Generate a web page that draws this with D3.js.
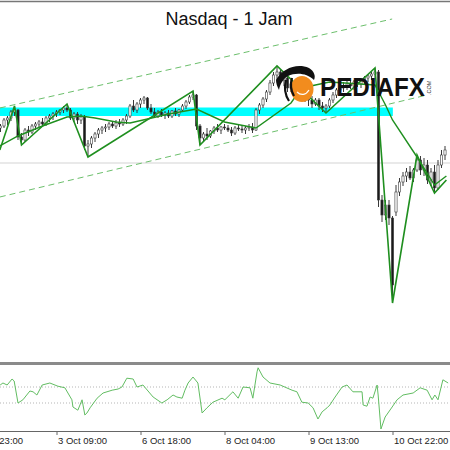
<!DOCTYPE html>
<html>
<head>
<meta charset="utf-8">
<script src="https://cdn.jsdelivr.net/npm/d3@7/dist/d3.min.js"></script>
<style>
  html, body { margin: 0; padding: 0; background: #fff; }
  svg { display: block; font-family: 'Liberation Sans', Arial, sans-serif; }
</style>
</head>
<body>
<div id="chart"></div>
<script>
/* global d3 */
// Nasdaq H1 candles, one entry per bar (left to right)
const opens = [24872, 24874, 24880, 24882, 24888, 24890, 24863, 24860, 24870, 24868, 24874, 24876, 24878, 24876, 24882, 24884, 24886, 24888, 24890, 24892,
  24890, 24882, 24886, 24880, 24883, 24854, 24856, 24862, 24866, 24870, 24872, 24873, 24876, 24874, 24877, 24876, 24880, 24884, 24894, 24890,
  24896, 24900, 24902, 24892, 24888, 24884, 24888, 24885, 24887, 24884, 24889, 24886, 24890, 24894, 24898, 24903, 24905, 24874, 24862, 24866,
  24864, 24869, 24872, 24870, 24873, 24872, 24870, 24867, 24872, 24871, 24870, 24872, 24873, 24870, 24890, 24895, 24901, 24908, 24917, 24925,
  24928, 24920, 24922, 24912, 24916, 24908, 24910, 24904, 24902, 24900, 24896, 24900, 24894, 24892, 24894, 24900, 24905, 24910, 24912, 24914,
  24916, 24914, 24918, 24916, 24920, 24922, 24924, 24926, 24928, 24800, 24785, 24795, 24782, 24788, 24808, 24818, 24824, 24828, 24822, 24830,
  24840, 24830, 24835, 24820, 24828, 24812, 24835, 24845]
const highs = [24876, 24882, 24884, 24890, 24894, 24891, 24867, 24872, 24874, 24876, 24878, 24880, 24882, 24884, 24886, 24888, 24890, 24891, 24894, 24896,
  24892, 24888, 24888, 24886, 24885, 24860, 24864, 24868, 24872, 24874, 24876, 24878, 24879, 24880, 24881, 24882, 24886, 24896, 24900, 24898,
  24902, 24904, 24903, 24896, 24892, 24890, 24891, 24889, 24890, 24890, 24892, 24891, 24896, 24900, 24905, 24909, 24906, 24876, 24868, 24872,
  24870, 24874, 24876, 24874, 24876, 24875, 24873, 24874, 24875, 24874, 24874, 24876, 24877, 24892, 24897, 24903, 24910, 24920, 24928, 24934,
  24930, 24926, 24924, 24920, 24920, 24914, 24912, 24910, 24908, 24904, 24902, 24902, 24898, 24896, 24902, 24908, 24912, 24916, 24918, 24920,
  24920, 24920, 24922, 24922, 24924, 24926, 24928, 24932, 24930, 24805, 24800, 24800, 24784, 24815, 24822, 24828, 24832, 24834, 24832, 24845,
  24844, 24842, 24840, 24832, 24835, 24840, 24850, 24854]
const lows = [24868, 24872, 24875, 24879, 24884, 24860, 24855, 24858, 24864, 24866, 24870, 24872, 24874, 24874, 24878, 24880, 24883, 24885, 24887, 24888,
  24880, 24878, 24876, 24876, 24850, 24843, 24852, 24858, 24862, 24866, 24868, 24870, 24872, 24871, 24873, 24874, 24876, 24882, 24888, 24887,
  24892, 24896, 24890, 24886, 24882, 24882, 24883, 24881, 24882, 24882, 24884, 24883, 24888, 24891, 24896, 24900, 24870, 24855, 24858, 24860,
  24862, 24866, 24868, 24866, 24870, 24868, 24864, 24865, 24869, 24867, 24866, 24869, 24867, 24869, 24886, 24892, 24898, 24905, 24914, 24920,
  24916, 24914, 24908, 24908, 24904, 24902, 24900, 24898, 24894, 24892, 24894, 24890, 24888, 24887, 24892, 24897, 24902, 24906, 24908, 24910,
  24911, 24910, 24913, 24912, 24916, 24918, 24920, 24922, 24793, 24778, 24780, 24775, 24697, 24784, 24804, 24814, 24818, 24820, 24818, 24828,
  24825, 24824, 24816, 24814, 24807, 24810, 24832, 24840]
const closes = [24874, 24880, 24882, 24888, 24890, 24863, 24860, 24870, 24868, 24874, 24876, 24878, 24876, 24882, 24884, 24886, 24888, 24890, 24892, 24890,
  24882, 24886, 24880, 24883, 24854, 24856, 24862, 24866, 24870, 24872, 24873, 24876, 24874, 24877, 24876, 24880, 24884, 24894, 24890, 24896,
  24900, 24902, 24892, 24888, 24884, 24888, 24885, 24887, 24884, 24889, 24886, 24890, 24894, 24898, 24903, 24905, 24874, 24862, 24866, 24864,
  24869, 24872, 24870, 24873, 24872, 24870, 24867, 24872, 24871, 24870, 24872, 24873, 24870, 24890, 24895, 24901, 24908, 24917, 24925, 24928,
  24920, 24922, 24912, 24916, 24908, 24910, 24904, 24902, 24900, 24896, 24900, 24894, 24892, 24894, 24900, 24905, 24910, 24912, 24914, 24916,
  24914, 24918, 24916, 24920, 24922, 24924, 24926, 24928, 24800, 24785, 24795, 24782, 24715, 24808, 24818, 24824, 24828, 24822, 24830, 24840,
  24830, 24835, 24820, 24828, 24812, 24835, 24845, 24850]

// zigzag swing points (bar index, price)
const zigIdx = [-0.2, 4, 6, 19, 25, 55, 57, 79, 93, 107, 112, 119, 124, 127.4]
const zigPrice = [24850, 24894, 24855, 24896, 24843, 24909, 24855, 24934, 24887, 24932, 24697, 24845, 24807, 24820]

// second (slower) green line
const slowIdx = [-0.2, 5, 12, 19, 23, 27, 33, 37, 42, 48, 56, 64, 73, 83, 86, 94, 107, 110, 112, 119, 124, 127.4]
const slowPrice = [24854, 24864, 24874, 24883, 24884, 24882, 24878, 24877, 24881, 24886, 24891, 24878, 24872, 24897, 24912, 24918, 24915, 24895, 24880, 24843, 24815, 24824]

// trend channel (dashed) and zones
const chanUpperIdx = [-0.2, 111.9]
const chanUpperPrice = [24892, 24981]
const chanLowerIdx = [-0.2, 121.9]
const chanLowerPrice = [24803, 24905]
const zoneIdx = [-0.2, 112.1]
const zonePrice = [24884, 24892.5]
const levelPrice = 24837

// oscillator (sub window)
const oscIdx = [-0.1, 0.7, 1.9, 3.3, 3.9, 5, 6.4, 8.4, 9.3, 10.4, 11.9, 14.1, 16.4, 18.4, 20.4, 20.7, 22.1, 23.3, 24.1, 24.7,
  25.6, 27.6, 29.3, 31.9, 33.6, 34.7, 36.1, 37.9, 39, 40.7, 43.6, 46.1, 47.6, 49.3, 50.4, 51.9, 52.7, 53.6, 55, 56.4,
  57.6, 59, 60.7, 63.3, 64.1, 66.4, 67.9, 69.3, 71.3, 72.1, 73.3, 73.6, 75, 77, 79.9, 83.3, 84.7, 86.1, 87.9, 89.3,
  90.7, 91.9, 93.3, 94.1, 95.6, 97.6, 99, 100.7, 103.3, 103.6, 104.7, 105.6, 106.4, 107.6, 107.9, 108.7, 109.9, 111.9, 113.3, 115,
  117.9, 119.9, 121.9, 123.3, 124.1, 125, 126.4, 127.9]
const oscVal = [62.5, 65, 62.5, 70, 67.5, 40, 44, 55, 54, 50, 62.5, 65, 61, 59, 44, 35, 31, 44, 25, 27.5,
  34, 46, 52.5, 56, 57.5, 60, 71, 70, 60, 62.5, 47.5, 40, 44, 50, 47.5, 46, 56, 65, 72.5, 65,
  27.5, 34, 41, 46, 44, 54, 46, 60, 59, 46, 79, 84, 72.5, 65, 62.5, 56, 54, 41, 40, 34,
  20, 29, 34, 37.5, 47.5, 60, 62.5, 54, 54, 37.5, 36, 47.5, 46, 62.5, 50, 7.5, 22.5, 35, 44, 50,
  52.5, 59, 56, 44, 50, 44, 69, 65]
const oscLevels = [40, 60]

const tickIdx = [-8, 16, 40, 64, 88, 112]
const tickLabels = ['2 Oct 23:00', '3 Oct 09:00', '6 Oct 18:00', '8 Oct 04:00', '9 Oct 13:00', '10 Oct 22:00']

const W = 450
const H = 450
const mainTop = 2
const mainBottom = 362
const oscTop = 365
const oscBottom = 431

const x = d3.scaleLinear().domain([0, 1]).range([0.5, 4])
const y = d3.scaleLinear().domain([24638, 24998]).range([mainBottom, mainTop])
const yOsc = d3.scaleLinear().domain([0, 100]).range([435, 355])

const svg = d3.select('#chart').append('svg')
  .attr('width', W)
  .attr('height', H)

const defs = svg.append('defs')
defs.append('clipPath').attr('id', 'clip-main')
  .append('rect').attr('x', 0).attr('y', mainTop).attr('width', W).attr('height', mainBottom - mainTop)
defs.append('clipPath').attr('id', 'clip-osc')
  .append('rect').attr('x', 0).attr('y', oscTop).attr('width', W).attr('height', oscBottom - oscTop)

svg.append('rect').attr('width', W).attr('height', H).attr('fill', '#fff')

// top frame line
svg.append('line')
  .attr('x1', 0).attr('x2', W).attr('y1', 1.5).attr('y2', 1.5)
  .attr('stroke', '#777').attr('stroke-width', 1.5)

const main = svg.append('g').attr('clip-path', 'url(#clip-main)')

// cyan zone
main.append('rect')
  .attr('x', x(zoneIdx[0]))
  .attr('width', x(zoneIdx[1]) - x(zoneIdx[0]))
  .attr('y', y(zonePrice[1]))
  .attr('height', y(zonePrice[0]) - y(zonePrice[1]))
  .attr('fill', '#00ffff')

// horizontal level
main.append('line')
  .attr('x1', 0).attr('x2', W)
  .attr('y1', y(levelPrice)).attr('y2', y(levelPrice))
  .attr('stroke', '#d3d3d3').attr('stroke-width', 1.2)

const line = d3.line().x(d => x(d[0])).y(d => y(d[1]))

// dashed channel
;[[chanUpperIdx, chanUpperPrice], [chanLowerIdx, chanLowerPrice]].forEach(([ix, pr]) => {
  main.append('path')
    .datum(d3.zip(ix, pr))
    .attr('d', line)
    .attr('fill', 'none')
    .attr('stroke', '#6cbf6c')
    .attr('stroke-width', 1)
    .attr('stroke-dasharray', '6,4')
})

// candles
const bars = opens.map((o, i) => ({ i, o, h: highs[i], l: lows[i], c: closes[i] }))

main.selectAll('.wick')
  .data(bars)
  .enter().append('line')
  .attr('class', 'wick')
  .attr('x1', d => x(d.i)).attr('x2', d => x(d.i))
  .attr('y1', d => y(d.h)).attr('y2', d => y(d.l))
  .attr('stroke', '#3a3a3a')
  .attr('stroke-width', 1)

main.selectAll('.body')
  .data(bars)
  .enter().append('rect')
  .attr('class', 'body')
  .attr('x', d => x(d.i) - 1.1)
  .attr('width', 2.2)
  .attr('y', d => y(Math.max(d.o, d.c)))
  .attr('height', d => Math.max(1, Math.abs(y(d.o) - y(d.c))))
  .attr('fill', d => d.c >= d.o ? '#fff' : '#1a1a1a')
  .attr('stroke', '#3a3a3a')
  .attr('stroke-width', 0.6)

// green lines
main.append('path')
  .datum(d3.zip(slowIdx, slowPrice))
  .attr('d', line)
  .attr('fill', 'none')
  .attr('stroke', '#1f8f1f')
  .attr('stroke-width', 1.4)

main.append('path')
  .datum(d3.zip(zigIdx, zigPrice))
  .attr('d', line)
  .attr('fill', 'none')
  .attr('stroke', '#1f8f1f')
  .attr('stroke-width', 1.6)

// title
svg.append('text')
  .attr('x', 229).attr('y', 25)
  .attr('text-anchor', 'middle')
  .attr('font-size', 18)
  .attr('fill', '#111')
  .text('Nasdaq - 1 Jam')

// watermark logo
const logo = svg.append('g')
logo.append('ellipse')
  .attr('cx', 302).attr('cy', 89).attr('rx', 11.5).attr('ry', 13)
  .attr('fill', '#f28c1e')
logo.append('path')
  .attr('d', 'M276,80 C283,68 297,63 309,68 C314,71 316,76 314,80 C307,73 296,72 288,76 C283,79 280,84 279,90 C277,86 276,83 276,80 Z')
  .attr('fill', '#111')
logo.append('path')
  .attr('d', 'M286,80 C284,88 285,95 289,101 M292,78 C290,85 291,91 294,96')
  .attr('fill', 'none').attr('stroke', '#111').attr('stroke-width', 2.2)
logo.append('path')
  .attr('d', 'M297,92 C301,96 306,95 309,90')
  .attr('fill', 'none').attr('stroke', '#fff').attr('stroke-width', 1.2)
logo.append('text')
  .attr('x', 320).attr('y', 96)
  .attr('font-size', 26)
  .attr('font-weight', 'bold')
  .attr('textLength', 105)
  .attr('lengthAdjust', 'spacingAndGlyphs')
  .attr('fill', '#111')
  .text('PEDIAFX')
logo.append('text')
  .attr('transform', 'translate(431,95) rotate(-90)')
  .attr('font-size', 5.5)
  .attr('fill', '#333')
  .text('.COM')

// separator between windows
svg.append('rect')
  .attr('x', 0).attr('y', mainBottom).attr('width', W).attr('height', 3)
  .attr('fill', '#8a8a8a')

// oscillator window
const osc = svg.append('g').attr('clip-path', 'url(#clip-osc)')
osc.selectAll('.lvl')
  .data(oscLevels)
  .enter().append('line')
  .attr('class', 'lvl')
  .attr('x1', 0).attr('x2', W)
  .attr('y1', d => yOsc(d)).attr('y2', d => yOsc(d))
  .attr('stroke', '#b5b5b5')
  .attr('stroke-dasharray', '1,2')

osc.append('path')
  .datum(d3.zip(oscIdx, oscVal))
  .attr('d', d3.line().x(d => x(d[0])).y(d => yOsc(d[1])))
  .attr('fill', 'none')
  .attr('stroke', '#62bd62')
  .attr('stroke-width', 1)

// time axis
const axis = svg.append('g')
  .attr('transform', `translate(0,${oscBottom})`)
  .call(d3.axisBottom(x)
    .tickValues(tickIdx)
    .tickFormat((d, i) => tickLabels[i])
    .tickSize(4)
    .tickSizeOuter(0))

axis.select('.domain').attr('stroke', '#666').attr('d', `M0,0.5H${W}`)
axis.selectAll('.tick line').attr('stroke', '#666')
axis.selectAll('.tick text')
  .attr('text-anchor', 'start')
  .attr('x', 1)
  .attr('y', 6)
  .attr('font-size', 9.5)
  .attr('font-family', "'Liberation Sans', Arial, sans-serif")
  .attr('fill', '#222')
</script>
</body>
</html>
